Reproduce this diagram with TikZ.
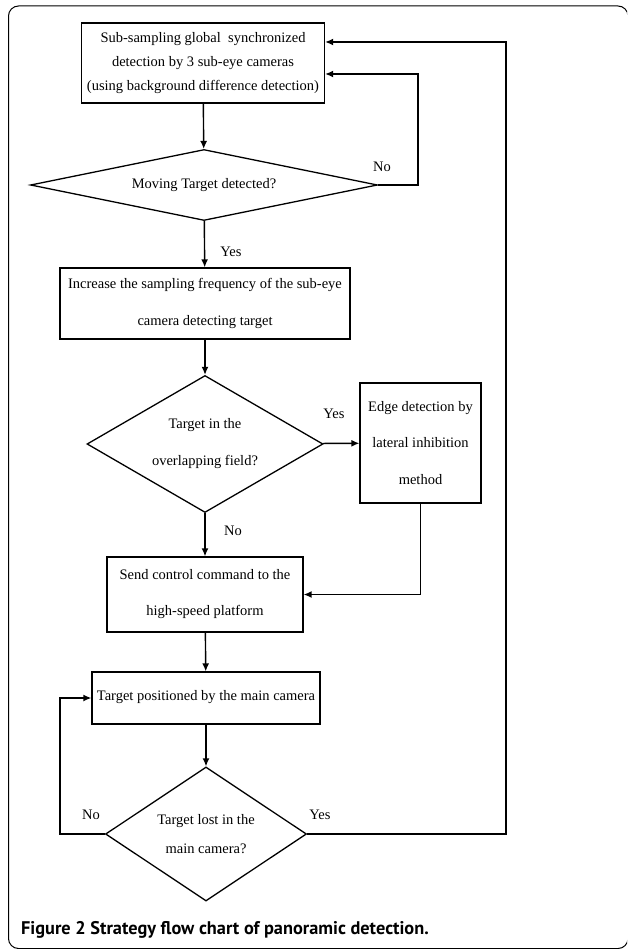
\documentclass[tikz,border=0pt]{standalone}
\usepackage{fontspec}
\setmainfont{Liberation Serif}
\newfontfamily\capfont{PT Sans}
\usetikzlibrary{shapes,arrows,arrows.meta}
\tikzset{%
	block/.style    = {draw, line width = 1.3pt, rectangle, align = center,
		inner sep = 0pt},
	decision/.style = {draw, line width = 1.3pt, diamond, align = center,
		inner sep = 0pt}, % Test
	link/.style     = {line width = 1.4pt}, % Connector
	lbl/.style      = {inner sep = 0pt}, % Yes / No
	>={Latex[length=8pt,width=7pt]}
}

\begin{document}
\begin{tikzpicture}[x=1pt,y=-1pt,font=\fontsize{14.5}{24}\selectfont]
			\clip (0,0) rectangle (627,949);
			\draw[line width=1pt,rounded corners=10pt] (8.5,6) rectangle (628,948.5);

			\node[block,minimum width=243pt,minimum height=80pt] (sample) at (203,63)
				{Sub-sampling global\ \ synchronized\\detection by 3 sub-eye cameras\\(using background difference detection)};
			\node[decision,minimum width=347pt,minimum height=71pt,aspect=4.9] (moving) at (204,185) {Moving Target detected?};
			\node[block,minimum width=290pt,minimum height=71pt,font=\fontsize{14.5}{37}\selectfont] (freq) at (205,303.5)
				{Increase the sampling frequency of the sub-eye\\camera detecting target};
			\node[decision,minimum width=236pt,minimum height=137pt,aspect=1.7,font=\fontsize{14.5}{37}\selectfont] (overlap) at (205,444)
				{Target in the\\overlapping field?};
			\node[block,minimum width=121pt,minimum height=120pt,font=\fontsize{14.5}{36.5}\selectfont] (edge) at (420.5,443)
				{Edge detection by\\lateral inhibition\\method};
			\node[block,minimum width=196pt,minimum height=75pt,font=\fontsize{14.5}{36}\selectfont] (send) at (205,594.5)
				{Send control command to the\\high-speed platform};
			\node[block,minimum width=228pt,minimum height=52pt] (main) at (206,698)
				{\raisebox{5pt}{Target positioned by the main camera}};
			\node[decision,minimum width=201pt,minimum height=134pt,aspect=1.5,font=\fontsize{14.5}{29}\selectfont] (lost) at (206,834)
				{Target lost in the\\main camera?};

			\coordinate (loopa) at (418,74);
			\coordinate (loopb) at (506,42);
			\coordinate (loopc) at (60,698);

			\node[lbl] (no1) at (382,167) {No};
			\node[lbl] (yes1) at (231,252) {Yes};
			\node[lbl] (yes2) at (334,414) {Yes};
			\node[lbl] (no2) at (233,531) {No};
			\node[lbl] (no3) at (91,815) {No};
			\node[lbl] (yes3) at (320,815) {Yes};

			\draw[link,->] (sample) -- (moving);
			\draw[link,->] (moving.east) -| (loopa) -- (sample.east |- loopa);
			\draw[link,->] (moving) -- (freq);
			\draw[link,->] (freq) -- (overlap);
			\draw[link,->] (overlap) -- (edge);
			\draw[link,->] (edge.south) |- (send.east);
			\draw[link,->] (overlap) -- (send);
			\draw[link,->] (send) -- (main);
			\draw[link,->] (main) -- (lost);
			\draw[link,->] (lost.west) -| (loopc) -- (main.west);
			\draw[link,->] (lost.east) -| (loopb) -- (sample.east |- loopb);

			\node[anchor=base west,inner sep=0pt,font=\capfont\bfseries\fontsize{18.3}{22}\selectfont] (caption) at (21,934)
				{Figure 2 Strategy flow chart of panoramic detection.};
		\end{tikzpicture}
\end{document}
